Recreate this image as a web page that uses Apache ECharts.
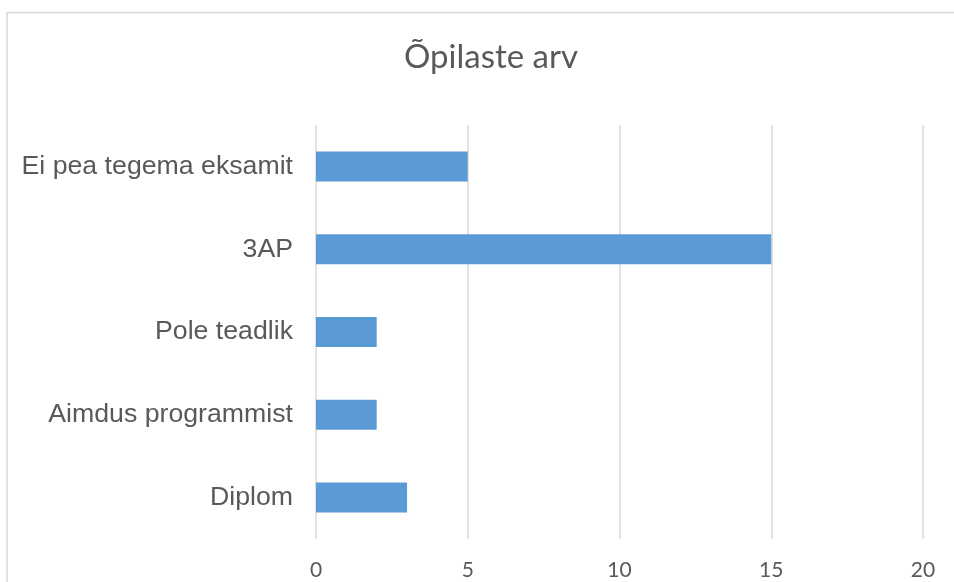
<!DOCTYPE html>
<html>
<head>
<meta charset="utf-8">
<script src="https://cdn.jsdelivr.net/npm/echarts@6/dist/echarts.min.js"></script>
<style>
html,body{margin:0;padding:0;background:#fff;}
#chart{width:954px;height:582px;}
</style>
</head>
<body>
<div id="chart"></div>
<script>
const titleText = 'Õpilaste arv';
const categories = ['Ei pea tegema eksamit', '3AP', 'Pole teadlik', 'Aimdus programmist', 'Diplom'];
const values = [5, 15, 2, 2, 3];
const xTicks = { min: 0, max: 20, interval: 5 };

const chart = echarts.init(document.getElementById('chart'));
chart.setOption({
  animation: false,
  backgroundColor: '#ffffff',
  graphic: [
    {
      type: 'rect',
      shape: { x: 7, y: 12.5, width: 1200, height: 1200 },
      style: { fill: 'none', stroke: '#d9d9d9', lineWidth: 1.5 },
      silent: true,
      z: -1
    },
    {
      type: 'text',
      x: 491,
      y: 57,
      style: {
        text: titleText,
        align: 'center',
        verticalAlign: 'middle',
        fontFamily: 'Lato',
        fontSize: 33,
        fill: '#595959'
      }
    }
  ],
  grid: { left: 316, right: 31, top: 125, bottom: 43, containLabel: false },
  xAxis: {
    type: 'value',
    min: xTicks.min,
    max: xTicks.max,
    interval: xTicks.interval,
    axisLine: { show: false },
    axisTick: { show: false },
    splitLine: { show: true, lineStyle: { color: '#d9d9d9', width: 1.5 } },
    axisLabel: { color: '#595959', fontFamily: 'Lato', fontSize: 21, margin: 21 }
  },
  yAxis: {
    type: 'category',
    inverse: true,
    data: categories,
    axisLine: { show: false },
    axisTick: { show: false },
    axisLabel: { color: '#595959', fontFamily: 'Liberation Sans, Arial, sans-serif', fontSize: 26.7, margin: 23 }
  },
  series: [{
    type: 'bar',
    data: values,
    barWidth: 30,
    itemStyle: { color: '#5b9bd5' }
  }]
});
</script>
</body>
</html>
